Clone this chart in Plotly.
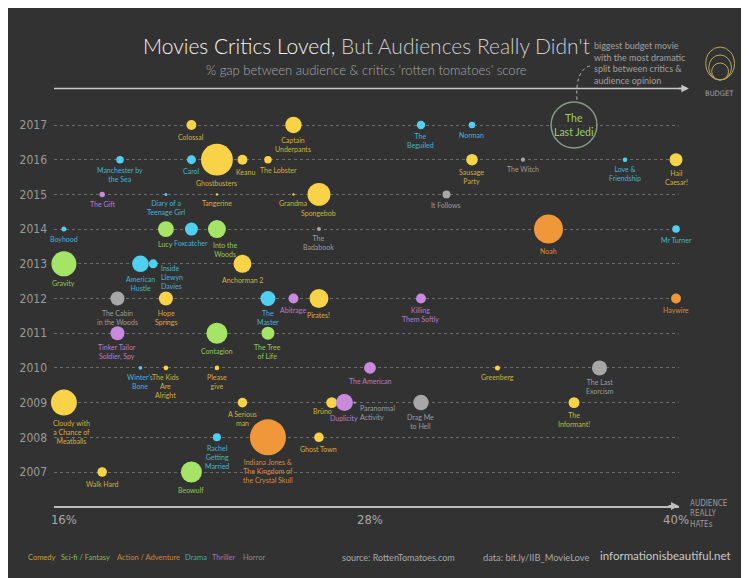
import math
import plotly.graph_objects as go

# ---------------- data ----------------
titles = [
    "Colossal", "Captain<br>Underpants", "The<br>Beguiled", "Norman", "The<br>Last Jedi",
    "Manchester by<br>the Sea", "Carol", "Ghostbusters", "Keanu", "The Lobster", "Sausage<br>Party",
    "The Witch", "Love &<br>Friendship", "Hail<br>Caesar!",
    "The Gift", "Diary of a<br>Teenage Girl", "Tangerine", "Grandma", "Spongebob", "It Follows",
    "Boyhood", "Lucy", "Foxcatcher", "Into the<br>Woods", "The<br>Badabook", "Noah", "Mr Turner",
    "Gravity", "American<br>Hustle", "Inside<br>Llewyn<br>Davies", "Anchorman 2",
    "The Cabin<br>in the Woods", "Hope<br>Springs", "The<br>Master", "Abitrage", "Pirates!",
    "Killing<br>Them Softly", "Haywire",
    "Tinker Tailor<br>Soldier, Spy", "Contagion", "The Tree<br>of Life",
    "Winter's<br>Bone", "The Kids<br>Are<br>Alright", "Please<br>give", "The American", "Greenberg",
    "The Last<br>Exorcism",
    "Cloudy with<br>a Chance of<br>Meatballs", "A Serious<br>man", "Brüno", "Duplicity",
    "Paranormal<br>Activity", "Drag Me<br>to Hell", "The<br>Informant!",
    "Rachel<br>Getting<br>Married", "Indiana Jones &<br>The Kingdom of<br>the Crystal Skull", "Ghost Town",
    "Walk Hard", "Beowulf",
]
years = [
    2017, 2017, 2017, 2017, 2017,
    2016, 2016, 2016, 2016, 2016, 2016, 2016, 2016, 2016,
    2015, 2015, 2015, 2015, 2015, 2015,
    2014, 2014, 2014, 2014, 2014, 2014, 2014,
    2013, 2013, 2013, 2013,
    2012, 2012, 2012, 2012, 2012, 2012, 2012,
    2011, 2011, 2011,
    2010, 2010, 2010, 2010, 2010, 2010,
    2009, 2009, 2009, 2009, 2009, 2009, 2009,
    2008, 2008, 2008,
    2007, 2007,
]
gap_pct = [
    21, 25, 30, 32, 36,
    18.2, 21, 22, 23, 24, 32, 34, 38, 40,
    17.5, 20, 22, 25, 26, 31,
    16, 20, 21, 22, 26, 35, 40,
    16, 19, 19.5, 23,
    18.1, 20, 24, 25, 26, 30, 40,
    18.1, 22, 24,
    19, 20, 22, 28, 33, 37,
    16, 23, 26.5, 27, 27.4, 30, 36,
    22, 24, 26,
    17.5, 21,
]
budget_musd = [
    14, 39, 10, 6, 300,
    8, 11.5, 144, 14, 8, 19, 2.5, 3, 24,
    4.3, 1.3, 0.8, 0.8, 75, 9,
    3.6, 36, 24, 46, 2.3, 120, 8,
    89, 39, 11.5, 46,
    28, 28, 32, 14, 51, 14, 14,
    28, 63, 24,
    1.8, 3, 3, 20, 3.6, 32,
    96, 13, 17, 41, 0.8, 34, 17,
    9, 185, 13,
    13, 63,
]
genres = [
    "Comedy", "Comedy", "Drama", "Drama", "Sci-fi / Fantasy",
    "Drama", "Drama", "Comedy", "Comedy", "Comedy", "Comedy", "Horror", "Drama", "Comedy",
    "Thriller", "Drama", "Comedy", "Comedy", "Comedy", "Horror",
    "Drama", "Sci-fi / Fantasy", "Drama", "Sci-fi / Fantasy", "Horror", "Action / Adventure", "Drama",
    "Sci-fi / Fantasy", "Drama", "Drama", "Comedy",
    "Horror", "Comedy", "Drama", "Thriller", "Comedy", "Thriller", "Action / Adventure",
    "Thriller", "Sci-fi / Fantasy", "Sci-fi / Fantasy",
    "Drama", "Comedy", "Comedy", "Thriller", "Comedy", "Horror",
    "Comedy", "Comedy", "Comedy", "Thriller", "Horror", "Horror", "Comedy",
    "Drama", "Action / Adventure", "Comedy",
    "Comedy", "Sci-fi / Fantasy",
]
highlight = "The<br>Last Jedi"
genre_names = ["Comedy", "Sci-fi / Fantasy", "Action / Adventure", "Drama", "Thriller", "Horror"]
x_ticks = [16, 28, 40]
x_tick_text = ["16%", "28%", "40%"]
year_ticks = list(range(2007, 2018))

# ---------------- styles ----------------
BG = "#323232"
BUBBLE = {"Comedy": "#f8d348", "Sci-fi / Fantasy": "#a6e468", "Action / Adventure": "#f0973a",
          "Drama": "#4fd0f0", "Thriller": "#c98ade", "Horror": "#a7a7a7"}
LABEL = {"Comedy": "#d2b13e", "Sci-fi / Fantasy": "#92c85a", "Action / Adventure": "#d98c3c",
         "Drama": "#48b2d2", "Thriller": "#b77ccf", "Horror": "#9c9c9c"}
LEGEND_C = {"Comedy": "#c4a43a", "Sci-fi / Fantasy": "#88bb55", "Action / Adventure": "#cc8538",
            "Drama": "#3fa6c6", "Thriller": "#a46fbe", "Horror": "#8a8a8a"}
FONT = "Lato, 'Open Sans', sans-serif"
NARROW = "'Liberation Sans Narrow', 'DejaVu Sans Condensed', Roboto, sans-serif"

K = 1.325                     # px radius per sqrt($M)
SIZEREF = 1 / (2 * K * K)
SIZEMIN = 1.2

# label tweaks: (xanchor, xshift, placement)
TWEAK = {
    "Keanu": ("center", 3, "below"),
    "The Lobster": ("left", -10, "below"),
    "Into the<br>Woods": ("center", 8, "below"),
    "Cloudy with<br>a Chance of<br>Meatballs": ("center", 8, "below"),
    "Inside<br>Llewyn<br>Davies": ("left", 1, "right"),
    "Brüno": ("right", 2, "belowleft"),
    "Paranormal<br>Activity": ("left", 3, "rightlow"),
}

# window geometry (page has an 8px body margin)
OFF = 8
WIN_W, WIN_H = 749, 578
PL, PR, PT, PB = 48, 679, 100, 506          # plot area in window pixels
FIG_W, FIG_H = WIN_W - 2 * OFF, WIN_H - OFF
ML, MT = PL - OFF, PT - OFF
MR, MB = OFF + FIG_W - PR, OFF + FIG_H - PB
PW, PH = PR - PL, PB - PT
def fx(px): return (px - PL) / PW
def fy(py): return (PB - py) / PH

PX_PER_PCT = 25.75
PX_PER_YEAR = 34.7
x0 = 16 - (58 - PL) / PX_PER_PCT
x_range = [x0, x0 + PW / PX_PER_PCT]
y0 = 2007 - (PB - 472) / PX_PER_YEAR
y_range = [y0, y0 + PH / PX_PER_YEAR]

fig = go.Figure()

for g in genre_names:
    idx = [i for i in range(len(titles)) if genres[i] == g and titles[i] != highlight]
    fig.add_trace(go.Scatter(
        x=[gap_pct[i] for i in idx], y=[years[i] for i in idx],
        mode="markers", name=g, cliponaxis=False,
        text=[titles[i].replace("<br>", " ") for i in idx], hoverinfo="text",
        marker=dict(size=[budget_musd[i] for i in idx], sizemode="area", sizeref=SIZEREF,
                    sizemin=SIZEMIN, color=BUBBLE[g], opacity=1, line=dict(width=0)),
    ))

hi = titles.index(highlight)
fig.add_trace(go.Scatter(
    x=[gap_pct[hi]], y=[years[hi]], mode="markers", cliponaxis=False, name="highlight",
    text=[titles[hi].replace("<br>", " ")], hoverinfo="text",
    marker=dict(size=[budget_musd[hi]], sizemode="area", sizeref=SIZEREF, color=BG,
                line=dict(width=1.5, color="#a9c7a4")),
))

annotations = []
for i, t in enumerate(titles):
    r = max(K * math.sqrt(budget_musd[i]), SIZEMIN)
    col = LABEL[genres[i]]
    if t == highlight:
        annotations.append(dict(x=gap_pct[i], y=years[i], xref="x", yref="y", text=t,
                                showarrow=False, xanchor="center", yanchor="middle",
                                font=dict(family=FONT, size=10.5, color="#98cf66")))
        continue
    xa, dx, place = TWEAK.get(t, ("center", 0, "below"))
    if place == "below":
        ya, dy = "top", -(r + 1)
    elif place == "right":
        ya, dy, dx = "top", 2, r + dx
    elif place == "belowleft":
        ya, dy = "top", -2
    else:  # rightlow
        ya, dy = "top", 1
    annotations.append(dict(x=gap_pct[i], y=years[i], xref="x", yref="y", text=t,
                            showarrow=False, xanchor=xa, yanchor=ya, xshift=dx, yshift=dy,
                            align="center" if xa == "center" else xa,
                            font=dict(family=FONT, size=7, color=col)))

# title, subtitle, notes
annotations += [
    dict(x=fx(364), y=fy(45), xref="paper", yref="paper", showarrow=False, xanchor="center", yanchor="middle",
         text="<span style='color:#f4f4f4'>Movies Critics Loved,</span><span style='color:#cdcdcd'> But Audiences Really Didn't</span>",
         font=dict(family=FONT, size=21, weight=300)),
    dict(x=fx(363), y=fy(70), xref="paper", yref="paper", showarrow=False, xanchor="center", yanchor="middle",
         text="% gap between audience & critics 'rotten tomatoes' score",
         font=dict(family=FONT, size=13, color="#a8a8a8", weight=300)),
    dict(x=fx(591), y=fy(63), xref="paper", yref="paper", showarrow=False, xanchor="left", yanchor="middle",
         align="left",
         text="biggest budget movie<br>with the most dramatic<br>split between critics &<br>audience opinion",
         font=dict(family=FONT, size=9, color="#a0a0a0")),
    dict(x=fx(720), y=fy(93), xref="paper", yref="paper", showarrow=False, xanchor="center", yanchor="middle",
         text="BUDGET", font=dict(family=NARROW, size=7.5, color="#a0a0a0")),
    dict(x=fx(688), y=fy(514), xref="paper", yref="paper", showarrow=False, xanchor="left", yanchor="middle",
         align="left", text="AUDIENCE<br>REALLY<br>HATEs", font=dict(family=NARROW, size=8, color="#9a9a9a")),
    # arrowheads
    dict(x=fx(689), y=fy(88.5), xref="paper", yref="paper", ax=-12, ay=0, text="", showarrow=True,
         arrowhead=2, arrowsize=1, arrowwidth=1.5, arrowcolor="#c8c8c8"),
    dict(x=1, y=0, xref="paper", yref="paper", ax=-12, ay=0, text="", showarrow=True,
         arrowhead=2, arrowsize=0.8, arrowwidth=2, arrowcolor="#bdbdbd"),
    # footer
    dict(x=fx(337), y=fy(557), xref="paper", yref="paper", showarrow=False, xanchor="left", yanchor="middle",
         text="source: RottenTomatoes.com", font=dict(family=FONT, size=9, color="#a8a8a8")),
    dict(x=fx(479), y=fy(557), xref="paper", yref="paper", showarrow=False, xanchor="left", yanchor="middle",
         text="data: bit.ly/IIB_MovieLove", font=dict(family=FONT, size=9.3, color="#a8a8a8")),
    dict(x=fx(597), y=fy(555), xref="paper", yref="paper", showarrow=False, xanchor="left", yanchor="middle",
         text="informationisbeautiful.net", font=dict(family=FONT, size=11.5, color="#c8c8c8")),
]
legend_x = [20, 53, 110, 178, 206, 237]
for g, lx in zip(genre_names, legend_x):
    annotations.append(dict(x=fx(lx), y=fy(557), xref="paper", yref="paper", showarrow=False,
                            xanchor="left", yanchor="middle", text=g,
                            font=dict(family=FONT, size=7.5, color=LEGEND_C[g])))

shapes = [
    # top arrow line
    dict(type="line", xref="paper", yref="paper", x0=fx(48), x1=fx(684), y0=fy(88.5), y1=fy(88.5),
         line=dict(color="#c8c8c8", width=1.5)),
    # dotted pointer to the highlight
    dict(type="path", xref="paper", yref="paper",
         path=f"M {fx(589)} {fy(66)} Q {fx(574)} {fy(70)} {fx(576)} {fy(101)}",
         line=dict(color="#b8b8b8", width=1, dash="dot")),
    # budget icon
    dict(type="circle", xref="paper", yref="paper", x0=fx(706), x1=fx(735), y0=fy(80), y1=fy(47),
         line=dict(color="#b7a85c", width=1)),
    dict(type="circle", xref="paper", yref="paper", x0=fx(709), x1=fx(732), y0=fy(80), y1=fy(55),
         line=dict(color="#b7a85c", width=1)),
    dict(type="circle", xref="paper", yref="paper", x0=fx(712), x1=fx(729), y0=fy(80), y1=fy(63),
         line=dict(color="#b7a85c", width=1)),
]

fig.update_layout(
    width=FIG_W, height=FIG_H, autosize=False,
    margin=dict(l=ML, r=MR, t=MT, b=MB, pad=0),
    paper_bgcolor=BG, plot_bgcolor=BG,
    showlegend=False,
    annotations=annotations, shapes=shapes,
    xaxis=dict(range=x_range, tickvals=x_ticks, ticktext=x_tick_text, showgrid=False, zeroline=False,
               showline=True, linecolor="#bdbdbd", linewidth=2, ticks="", fixedrange=True,
               tickfont=dict(family=NARROW, size=13, color="#a8a8a8")),
    yaxis=dict(range=y_range, tickvals=year_ticks, showgrid=True, gridcolor="#6c6c6c", griddash="dot",
               gridwidth=1, zeroline=False, showline=False, ticks="", fixedrange=True,
               ticklabelstandoff=6,
               tickfont=dict(family=NARROW, size=12, color="#9a9a9a")),
    hovermode="closest",
)

fig.write_html("out.html")
